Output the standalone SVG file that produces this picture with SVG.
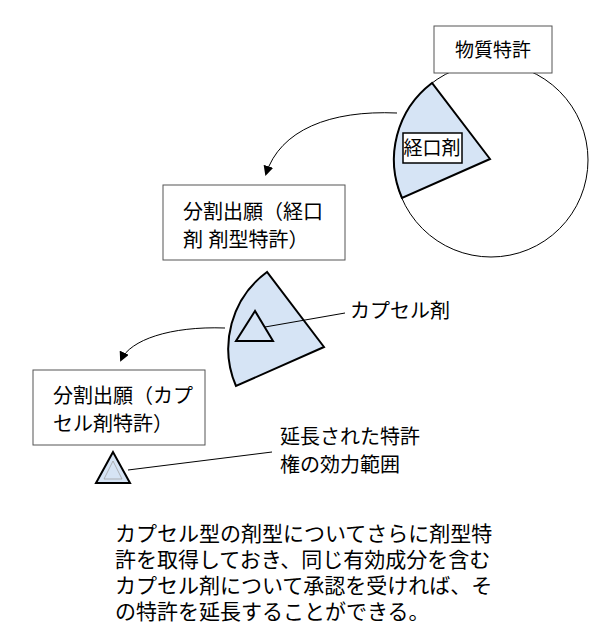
<svg xmlns="http://www.w3.org/2000/svg" width="600" height="638" viewBox="0 0 600 638">
<style>
text{font-family:"Liberation Sans","Noto Sans CJK JP",sans-serif;font-size:19px;fill:#000}
.big{font-size:21px}
.box{fill:#fff;stroke:#555;stroke-width:1}
.sec{fill:#d6e4f5;stroke:#000;stroke-width:2}
.ln{fill:none;stroke:#000;stroke-width:1}
</style>
<defs><marker id="ah" markerWidth="10" markerHeight="10" refX="8" refY="5" orient="auto" markerUnits="userSpaceOnUse"><path d="M0,0 L10,5 L0,10 z" fill="#000"/></marker></defs>
<g id="circle"><circle cx="491" cy="160" r="97" fill="#fff" stroke="#000" stroke-width="1"/></g>
<g id="sector1"><path class="sec" d="M490,159 L432,83 A96,96 0 0 0 402,198 Z"/></g>
<g id="n1"><rect class="box" x="434" y="26" width="118" height="47"/><text x="493" y="57" text-anchor="middle">物質特許</text></g>
<g id="n2"><rect x="403" y="133" width="59" height="30" fill="#fff" stroke="#000" stroke-width="1.5"/><text x="432" y="155" text-anchor="middle">経口剤</text></g>
<g id="n3"><rect class="box" x="163" y="185" width="182" height="75"/><text x="183" y="219" style="font-size:20px">分割出願（経口</text><text x="183" y="247" style="font-size:20px">剤 剤型特許）</text></g>
<g id="sector2"><path class="sec" d="M324,347 L267,272 A95,95 0 0 0 236,386 Z"/></g>
<g id="tri1"><polygon points="255,311 236,341 273,341" fill="#d6e4f5" stroke="#000" stroke-width="2"/></g>
<g id="n4"><rect class="box" x="33" y="370" width="172" height="75"/><text x="53" y="403" style="font-size:20px">分割出願（カプ</text><text x="53" y="431" style="font-size:20px">セル剤特許）</text></g>
<g id="tri2"><polygon points="113,452 96,483 130,483" fill="#d6e4f5" stroke="#000" stroke-width="2"/><polygon points="113,461 104,479 122,479" fill="none" stroke="#999" stroke-width="0.7"/></g>
<g id="labels"><text x="350" y="318" style="font-size:20px">カプセル剤</text><text x="280" y="444" style="font-size:20px">延長された特許</text><text x="280" y="472" style="font-size:20px">権の効力範囲</text>
<text class="big" x="115" y="541">カプセル型の剤型についてさらに剤型特</text><text class="big" x="115" y="567">許を取得しておき、同じ有効成分を含む</text><text class="big" x="115" y="593">カプセル剤について承認を受ければ、そ</text><text class="big" x="115" y="619">の特許を延長することができる。</text></g>
<g id="connectors">
<path class="ln" d="M397,113 C330,110 280,130 266,174" marker-end="url(#ah)"/>
<path class="ln" d="M225,328 C170,326 130,340 121,360" marker-end="url(#ah)"/>
<line class="ln" x1="265" y1="327" x2="345" y2="313"/>
<line class="ln" x1="128" y1="470" x2="272" y2="452"/>
</g>
</svg>
